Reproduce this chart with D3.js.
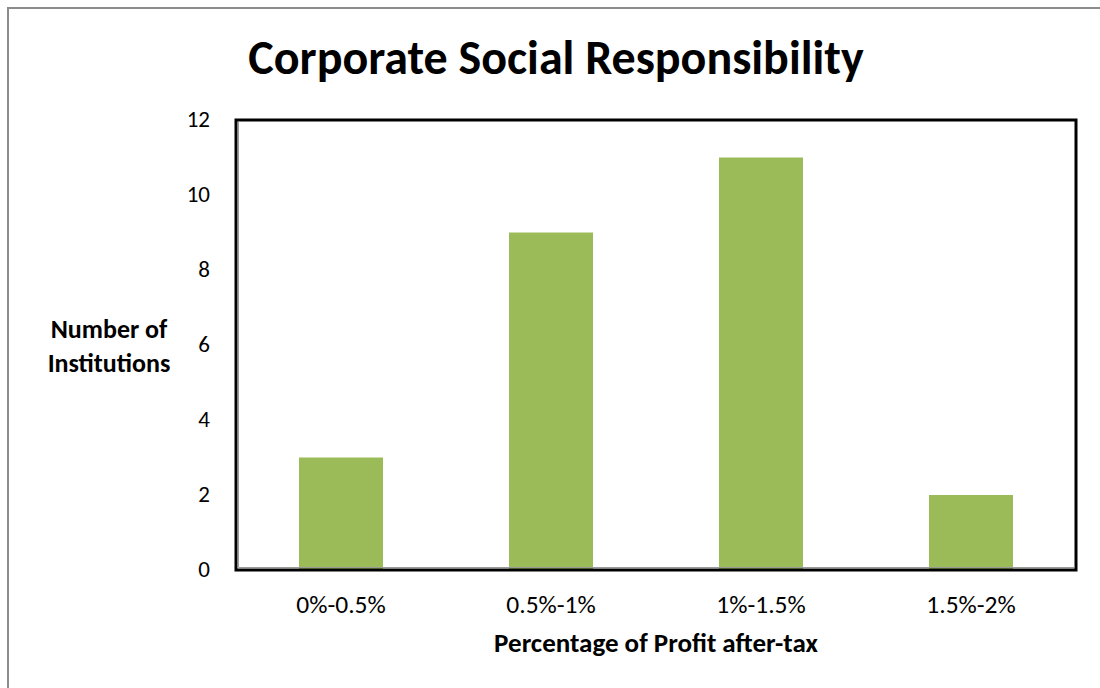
<!DOCTYPE html>
<html>
<head>
<meta charset="utf-8">
<script src="https://cdn.jsdelivr.net/npm/d3@7"></script>
<style>
  html, body { margin: 0; padding: 0; background: #fff; }
  svg { display: block; font-family: Carlito, Calibri, Lato, "Open Sans", sans-serif; }
</style>
</head>
<body>
<svg id="chart" width="1100" height="688"></svg>
<script>
// Chart data
const categories = ["0%-0.5%", "0.5%-1%", "1%-1.5%", "1.5%-2%"];
const institutions = [3, 9, 11, 2];
const yTicks = [0, 2, 4, 6, 8, 10, 12];

const chartTitle = "Corporate Social Responsibility";
const xTitle = "Percentage of Profit after-tax";
const yTitle = ["Number of", "Institutions"];

const svg = d3.select("#chart");
const W = 1100, H = 688;
const plot = { left: 236, top: 120, right: 1076, bottom: 570 };
const FONT = "Carlito, Calibri, Lato, 'Open Sans', sans-serif";

// Outer chart-area frame
svg.append("rect")
  .attr("x", 8).attr("y", 8)
  .attr("width", W + 20).attr("height", H + 20)
  .attr("fill", "#fff")
  .attr("stroke", "#8c8c8c").attr("stroke-width", 2);

const x = d3.scaleBand()
  .domain(categories)
  .range([plot.left, plot.right])
  .paddingInner(0.6)
  .paddingOuter(0.3);

const y = d3.scaleLinear()
  .domain([0, 12])
  .range([plot.bottom, plot.top]);

// Bars
svg.append("g").selectAll("rect")
  .data(categories.map((c, i) => ({ c, v: institutions[i] })))
  .join("rect")
  .attr("x", d => x(d.c))
  .attr("y", d => y(d.v))
  .attr("width", x.bandwidth())
  .attr("height", d => y(0) - y(d.v))
  .attr("fill", "#9bbb59");

// Plot-area border
svg.append("rect")
  .attr("x", plot.left).attr("y", plot.top)
  .attr("width", plot.right - plot.left)
  .attr("height", plot.bottom - plot.top)
  .attr("fill", "none")
  .attr("stroke", "#000").attr("stroke-width", 3);
svg.append("path")
  .attr("d", `M${plot.left + 2.5},${plot.top + 2} V${plot.bottom - 2.5} H${plot.right - 2}`)
  .attr("fill", "none")
  .attr("stroke", "#9a9a9a").attr("stroke-width", 1);

// Y axis tick labels
const yAxis = d3.axisLeft(y).tickValues(yTicks).tickSize(0).tickPadding(0).tickFormat(d3.format("d"));
const gy = svg.append("g").attr("transform", `translate(${plot.left - 26},0)`).call(yAxis);
gy.select(".domain").remove();
gy.selectAll("text")
  .attr("x", 0).attr("dy", "0.3em")
  .attr("font-size", 23).attr("fill", "#000")
  .attr("font-family", FONT);

// X axis tick labels
const xAxis = d3.axisBottom(x).tickSize(0).tickPadding(0);
const gx = svg.append("g").attr("transform", `translate(0,${plot.bottom})`).call(xAxis);
gx.select(".domain").remove();
gx.selectAll("text")
  .attr("y", 43).attr("dy", 0)
  .attr("font-size", 25.5).attr("fill", "#000")
  .attr("font-family", FONT);

// Title
svg.append("text")
  .attr("x", 556).attr("y", 74)
  .attr("text-anchor", "middle")
  .attr("font-size", 48).attr("font-weight", "bold")
  .text(chartTitle);

// X axis title
svg.append("text")
  .attr("x", 656).attr("y", 652)
  .attr("text-anchor", "middle")
  .attr("font-size", 27).attr("font-weight", "bold")
  .text(xTitle);

// Y axis title (two lines)
const ytBaselines = [338, 372];
svg.append("g").selectAll("text")
  .data(yTitle)
  .join("text")
  .attr("x", 109)
  .attr("y", (d, i) => ytBaselines[i])
  .attr("text-anchor", "middle")
  .attr("font-size", 26).attr("font-weight", "bold")
  .text(d => d);
</script>
</body>
</html>
